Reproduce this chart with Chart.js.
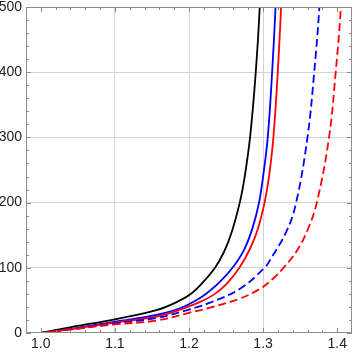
<!DOCTYPE html>
<html>
<head>
<meta charset="utf-8">
<script src="https://cdn.jsdelivr.net/npm/chart.js@4.4.1/dist/chart.umd.min.js"></script>
<style>
  html, body { margin: 0; padding: 0; background: #fff; }
  #wrap { width: 354px; height: 354px; }
</style>
</head>
<body>
<div id="wrap"><canvas id="chart"></canvas></div>
<script>
// Values (x, y pairs per curve)
const blackX = [1.0, 1.021, 1.044, 1.1, 1.156, 1.188, 1.2036, 1.215, 1.2351, 1.2475, 1.2577, 1.2685, 1.2745, 1.2824, 1.2901, 1.2955, 1.2985];
const blackY = [0, 4.6, 9.7, 21, 35, 50, 61, 73, 100, 125, 155, 200, 235, 300, 400, 500, 600];

const blueX = [1.0, 1.05, 1.1, 1.156, 1.188, 1.2104, 1.224, 1.242, 1.26, 1.2745, 1.286, 1.2945, 1.3, 1.3063, 1.3122, 1.3168, 1.3205];
const blueY = [0, 8, 17.4, 27.6, 38, 50.6, 61, 78.7, 102, 128, 162, 200, 240, 300, 400, 500, 600];

const redX = [1.0, 1.05, 1.1, 1.156, 1.188, 1.2126, 1.235, 1.252, 1.268, 1.2827, 1.293, 1.302, 1.308, 1.3139, 1.3198, 1.3243, 1.328];
const redY = [0, 7.5, 15.8, 25, 36, 46.5, 60, 77, 100, 130, 160, 200, 240, 300, 400, 500, 600];

const blueDashX = [1.0, 1.05, 1.1, 1.156, 1.2, 1.2284, 1.269, 1.302, 1.31, 1.332, 1.3446, 1.3599, 1.369, 1.376, 1.381];
const blueDashY = [0, 7, 14.8, 23, 36, 46.5, 68, 100, 113, 157, 200, 300, 400, 500, 600];

const redDashX = [1.0, 1.05, 1.1, 1.156, 1.2, 1.2284, 1.269, 1.296, 1.314, 1.3275, 1.345, 1.36, 1.3725, 1.389, 1.398, 1.405, 1.409];
const redDashY = [0, 6.5, 13.3, 19, 31, 39, 53, 68, 84, 100, 125, 158, 200, 300, 400, 500, 600];

// Tick labels
const xTicks = [1.0, 1.1, 1.2, 1.3, 1.4];
const yTicks = [0, 100, 200, 300, 400, 500];

function toPoints(xs, ys){
    return xs.map((x, i) => ({x: x, y: ys[i]}));
}

function curve(xs, ys, color, dashed){
    return {
        data: toPoints(xs, ys),
        borderColor: color,
        borderWidth: 1.8,
        borderDash: dashed ? [8, 4] : [],
        pointRadius: 0,
        showLine: true,
        fill: false,
        tension: 0.4
    };
}

// Frame with inward major/minor ticks on all four sides
const framePlugin = {
    id: "frame",
    afterDraw(chart){
        const ctx = chart.ctx;
        const a = chart.chartArea;
        const sx = chart.scales.x, sy = chart.scales.y;
        ctx.save();
        ctx.strokeStyle = "#8c8c8c";
        ctx.lineWidth = 1;
        ctx.strokeRect(a.left + 0.5, a.top + 0.5, a.right - a.left - 1, a.bottom - a.top - 1);

        ctx.beginPath();
        // x ticks every 0.02, major every 0.1
        for (let i = 49; i <= 71; i++){
            const v = i / 50;
            const px = Math.round(sx.getPixelForValue(v)) + 0.5;
            if (px < a.left || px > a.right) continue;
            const len = (i % 5 === 0) ? 5 : 3;
            ctx.moveTo(px, a.bottom); ctx.lineTo(px, a.bottom - len);
            ctx.moveTo(px, a.top); ctx.lineTo(px, a.top + len);
        }
        // y ticks every 20, major every 100
        for (let v = 0; v <= 500; v += 20){
            const py = Math.round(sy.getPixelForValue(v)) + 0.5;
            const len = (v % 100 === 0) ? 5 : 3;
            ctx.moveTo(a.left, py); ctx.lineTo(a.left + len, py);
            ctx.moveTo(a.right, py); ctx.lineTo(a.right - len, py);
        }
        ctx.stroke();
        ctx.restore();
    }
};

const tickFont = {family: "'Liberation Sans', Arial, sans-serif", size: 14};

const config = {
    type: "scatter",
    data: {
        datasets: [
            curve(redDashX, redDashY, "#ff0000", true),
            curve(blueDashX, blueDashY, "#0000ff", true),
            curve(redX, redY, "#ff0000", false),
            curve(blueX, blueY, "#0000ff", false),
            curve(blackX, blackY, "#000000", false)
        ]
    },
    options: {
        responsive: true,
        maintainAspectRatio: false,
        animation: false,
        layout: {padding: {top: 7, right: 2, left: 0, bottom: 0}},
        plugins: {legend: {display: false}, tooltip: {enabled: false}},
        scales: {
            x: {
                type: "linear",
                min: 0.98,
                max: 1.42,
                afterBuildTicks: s => { s.ticks = xTicks.map(v => ({value: v})); },
                // fixed height, and no extra label padding so the plot area is exact
                afterFit: s => { s.height = 21; s.paddingLeft = 0; s.paddingRight = 0; },
                border: {display: false},
                grid: {
                    drawTicks: false,
                    color: c => (c.tick && c.tick.value > 1.05 && c.tick.value < 1.35) ? "#d4d4d4" : "rgba(0,0,0,0)"
                },
                ticks: {
                    padding: 3,
                    color: "#222",
                    font: tickFont,
                    maxRotation: 0,
                    autoSkip: false,
                    callback: v => Number(v).toFixed(1)
                }
            },
            y: {
                type: "linear",
                min: 0,
                max: 500,
                afterBuildTicks: s => { s.ticks = yTicks.map(v => ({value: v})); },
                afterFit: s => { s.width = 26; s.paddingTop = 0; s.paddingBottom = 0; },
                border: {display: false},
                grid: {
                    drawTicks: false,
                    color: c => (c.tick && c.tick.value > 0 && c.tick.value < 500) ? "#d4d4d4" : "rgba(0,0,0,0)"
                },
                ticks: {
                    padding: 4,
                    color: "#222",
                    font: tickFont,
                    autoSkip: false,
                    callback: v => v
                }
            }
        }
    },
    plugins: [framePlugin]
};

new Chart(document.getElementById("chart"), config);
</script>
</body>
</html>
